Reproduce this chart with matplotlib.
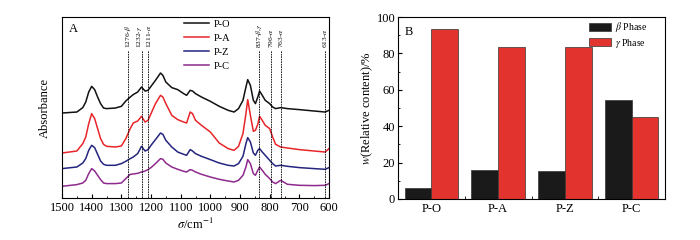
import matplotlib
matplotlib.use('Agg')
import matplotlib.pyplot as plt
from matplotlib.ticker import MultipleLocator, FixedLocator

plt.rcParams['font.family'] = ['Liberation Serif', 'DejaVu Serif']
plt.rcParams['mathtext.fontset'] = 'stix'

# --- DATA: panel A, FTIR spectra (arbitrary absorbance units, offset) ---
wavenumber = [1500, 1450, 1430, 1420, 1410, 1400, 1390, 1380, 1370, 1360, 1350, 1320,
              1300, 1285, 1270, 1260, 1245, 1232, 1220, 1210, 1200, 1185, 1168, 1160,
              1150, 1130, 1110, 1090, 1080, 1068, 1060, 1050, 1030, 1000, 970, 940,
              920, 905, 890, 880, 874, 865, 855, 848, 840, 834, 825, 815, 800, 790,
              780, 763, 740, 700, 650, 613, 600]

p_o = [0.873, 0.883, 0.927, 0.983, 1.083, 1.140, 1.107, 1.033, 0.967, 0.923, 0.917, 0.923,
       0.940, 0.993, 1.033, 1.057, 1.083, 1.133, 1.093, 1.100, 1.140, 1.200, 1.273, 1.250,
       1.183, 1.127, 1.107, 1.067, 1.050, 1.100, 1.093, 1.067, 1.033, 0.990, 0.940, 0.900,
       0.883, 0.917, 1.000, 1.133, 1.207, 1.150, 1.000, 0.967, 1.033, 1.093, 1.050, 1.000,
       0.967, 0.933, 0.917, 0.927, 0.917, 0.907, 0.893, 0.883, 0.900]

p_a = [0.473, 0.493, 0.567, 0.633, 0.767, 0.867, 0.817, 0.717, 0.617, 0.560, 0.540, 0.533,
       0.543, 0.617, 0.717, 0.773, 0.793, 0.840, 0.783, 0.800, 0.867, 0.967, 1.050, 1.033,
       0.967, 0.850, 0.807, 0.783, 0.773, 0.883, 0.867, 0.800, 0.750, 0.683, 0.573, 0.517,
       0.500, 0.540, 0.667, 0.867, 1.007, 0.850, 0.690, 0.700, 0.760, 0.840, 0.800, 0.750,
       0.717, 0.633, 0.560, 0.533, 0.523, 0.507, 0.493, 0.483, 0.517]

p_z = [0.317, 0.333, 0.373, 0.417, 0.500, 0.550, 0.527, 0.460, 0.393, 0.360, 0.350, 0.350,
       0.367, 0.390, 0.417, 0.433, 0.467, 0.540, 0.493, 0.507, 0.550, 0.607, 0.673, 0.660,
       0.600, 0.533, 0.483, 0.460, 0.450, 0.507, 0.493, 0.467, 0.440, 0.407, 0.373, 0.350,
       0.343, 0.367, 0.440, 0.567, 0.627, 0.583, 0.473, 0.450, 0.500, 0.517, 0.483, 0.450,
       0.400, 0.367, 0.343, 0.350, 0.340, 0.327, 0.317, 0.310, 0.327]

p_c = [0.140, 0.157, 0.173, 0.200, 0.267, 0.317, 0.293, 0.250, 0.207, 0.173, 0.167, 0.167,
       0.173, 0.217, 0.260, 0.263, 0.270, 0.283, 0.293, 0.307, 0.327, 0.367, 0.417, 0.410,
       0.373, 0.333, 0.310, 0.290, 0.283, 0.307, 0.300, 0.283, 0.260, 0.233, 0.210, 0.193,
       0.183, 0.200, 0.250, 0.333, 0.407, 0.367, 0.267, 0.250, 0.300, 0.333, 0.300, 0.260,
       0.217, 0.183, 0.167, 0.200, 0.160, 0.150, 0.147, 0.150, 0.167]

spectra_names = ["P-O", "P-A", "P-Z", "P-C"]
spectra_colors = ['#111111', '#e8262a', '#25257f', '#8e2a8e']

band_pos = [1276, 1232, 1211, 837, 796, 763, 613]
band_labels = ["1276-$\\beta$", "1232-$\\gamma$", "1211-$\\alpha$", "837-$\\beta$,$\\gamma$",
               "796-$\\alpha$", "763-$\\alpha$", "613-$\\alpha$"]
label_shift = [0, -1.2, 1.2, 0, 0, 0, 0]   # points, to keep the close pair apart

# --- DATA: panel B, relative phase content (%) ---
samples = ["P-O", "P-A", "P-Z", "P-C"]
beta_phase = [6, 16, 15.6, 54.5]
gamma_phase = [93.5, 83.5, 83.5, 45]

fig = plt.figure(figsize=(7, 2.4), dpi=100)
axA = fig.add_axes([0.0886, 0.175, 0.3814, 0.754])
axB = fig.add_axes([0.5686, 0.171, 0.3814, 0.758])

# ---------- panel A ----------
for ys, name, col in zip([p_o, p_a, p_z, p_c], spectra_names, spectra_colors):
    axA.plot(wavenumber, ys, color=col, linewidth=1.1, label=name)

for pos, lab, dx in zip(band_pos, band_labels, label_shift):
    axA.plot([pos, pos], [0.0, 1.5], color='black', linestyle=(0, (2, 1)), linewidth=0.6)
    axA.annotate(lab, xy=(pos, 1.52), xytext=(dx, 0), textcoords='offset points',
                 rotation=90, ha='center', va='bottom', fontsize=5.3)

axA.set_xlim(1500, 600)
axA.set_ylim(0.023, 1.833)
axA.xaxis.set_major_locator(MultipleLocator(100))
axA.xaxis.set_minor_locator(MultipleLocator(50))
axA.tick_params(axis='x', which='both', direction='in', top=False, labelsize=9, pad=3)
axA.tick_params(axis='x', which='major', length=3)
axA.tick_params(axis='x', which='minor', length=1.5)
axA.set_yticks([])
axA.set_xlabel("$\\sigma$/cm$^{-1}$", fontsize=9, labelpad=2)
axA.set_ylabel("Absorbance", fontsize=9, labelpad=8)
axA.text(0.025, 0.92, "A", transform=axA.transAxes, fontsize=9)
axA.legend(loc='upper left', bbox_to_anchor=(0.43, 1.025), frameon=False, fontsize=7.5,
           handlelength=2.4, handletextpad=0.4, labelspacing=0.45, borderpad=0.2)

# ---------- panel B ----------
x = list(range(len(samples)))
w = 0.4
axB.bar([i - w / 2 for i in x], beta_phase, width=w, color='#1a1a1a', edgecolor='#333333',
        linewidth=0.5, label="$\\beta$ Phase")
axB.bar([i + w / 2 for i in x], gamma_phase, width=w, color='#e2332f', edgecolor='#333333',
        linewidth=0.5, label="$\\gamma$ Phase")

axB.set_xlim(-0.5, 3.5)
axB.set_ylim(0, 100)
axB.set_xticks(x)
axB.set_xticklabels(samples)
axB.xaxis.set_minor_locator(FixedLocator([0.5, 1.5, 2.5]))
axB.tick_params(axis='x', which='major', length=0, labelsize=9, pad=3)
axB.tick_params(axis='x', which='minor', direction='in', length=2.5)
axB.yaxis.set_major_locator(MultipleLocator(20))
axB.yaxis.set_minor_locator(MultipleLocator(10))
axB.tick_params(axis='y', which='both', direction='in', labelsize=9, pad=2)
axB.tick_params(axis='y', which='major', length=3)
axB.tick_params(axis='y', which='minor', length=1.5)
axB.set_ylabel("$w$(Relative content)/%", fontsize=9, labelpad=1)
axB.text(0.025, 0.9, "B", transform=axB.transAxes, fontsize=9)
axB.legend(loc='upper left', bbox_to_anchor=(0.69, 1.02), frameon=False, fontsize=7,
           handlelength=2.3, handleheight=0.9, handletextpad=0.4, labelspacing=0.25,
           borderpad=0.2)

fig.savefig("out.png", dpi=100)
